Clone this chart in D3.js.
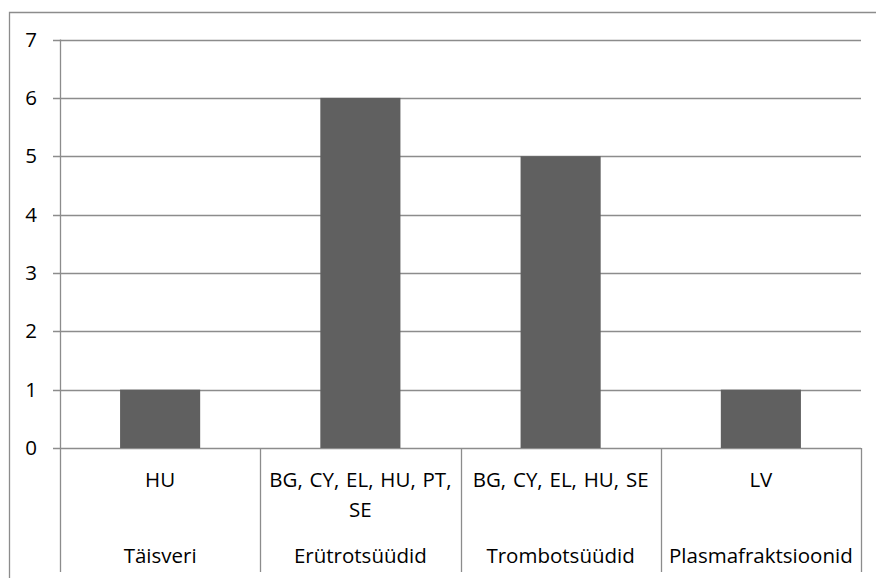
<!DOCTYPE html>
<html>
<head>
<meta charset="utf-8">
<script src="https://cdn.jsdelivr.net/npm/d3@7/dist/d3.min.js"></script>
<style>
  html, body { margin: 0; padding: 0; background: #fff; }
  svg { display: block; }
  text { font-family: "Open Sans", Lato, sans-serif; fill: #000; }
</style>
</head>
<body>
<svg id="chart" width="876" height="578"></svg>
<script>
// Blood component groups, the countries listed under each, and the count per group
const groups = ["Täisveri", "Erütrotsüüdid", "Trombotsüüdid", "Plasmafraktsioonid"];
const countryLabels = [["HU"], ["BG, CY, EL, HU, PT,", "SE"], ["BG, CY, EL, HU, SE"], ["LV"]];
const counts = [1, 6, 5, 1];
const yTicks = [0, 1, 2, 3, 4, 5, 6, 7];

const svg = d3.select("#chart");
const W = 876, H = 578;
const plotLeft = 60, plotRight = 861, plotTop = 39.5, plotBottom = 448;
const axisColor = "#8c8c8c";
const fontSize = 20.5;

// chart frame (clipped by the page on the right and bottom)
svg.append("path")
  .attr("d", `M9.5,${H} V12.5 H${W}`)
  .attr("fill", "none")
  .attr("stroke", axisColor)
  .attr("stroke-width", 1.3);

const y = d3.scaleLinear().domain([0, 7]).range([plotBottom, plotTop]);
const x = d3.scaleBand().domain(groups).range([plotLeft, plotRight]).paddingInner(0.6).paddingOuter(0.3);
const cell = d3.scaleBand().domain(groups).range([plotLeft, plotRight]).padding(0);

// horizontal gridlines with small ticks to the left of the axis
svg.append("g").selectAll("line").data(yTicks).join("line")
  .attr("x1", plotLeft - 7).attr("x2", plotRight)
  .attr("y1", d => Math.round(y(d)) + 0.5).attr("y2", d => Math.round(y(d)) + 0.5)
  .attr("stroke", axisColor).attr("stroke-width", 1.3);

// y tick labels
svg.append("g").selectAll("text").data(yTicks).join("text")
  .attr("x", 37).attr("y", d => y(d))
  .attr("dy", "0.35em")
  .attr("text-anchor", "end")
  .attr("font-size", fontSize)
  .text(d => d);

// bars
svg.append("g").selectAll("rect").data(counts).join("rect")
  .attr("x", (d, i) => x(groups[i]))
  .attr("width", x.bandwidth())
  .attr("y", d => y(d))
  .attr("height", d => y(0) - y(d))
  .attr("fill", "#606060");

// vertical axis and category separators running down through the label area
const seps = groups.map(g => cell(g)).concat([plotRight]);
svg.append("g").selectAll("line").data(seps).join("line")
  .attr("x1", d => Math.round(d) + 0.5).attr("x2", d => Math.round(d) + 0.5)
  .attr("y1", (d, i) => i === 0 ? plotTop : plotBottom)
  .attr("y2", 572)
  .attr("stroke", axisColor).attr("stroke-width", 1.3);

// country labels (first level)
const lbl = svg.append("g");
groups.forEach((g, i) => {
  const cx = cell(g) + cell.bandwidth() / 2;
  countryLabels[i].forEach((line, j) => {
    lbl.append("text")
      .attr("x", cx).attr("y", 480 + j * 30)
      .attr("dy", "0.35em")
      .attr("text-anchor", "middle")
      .attr("font-size", fontSize)
      .attr("word-spacing", 1.5)
      .text(line);
  });
  // group labels (second level)
  lbl.append("text")
    .attr("x", cx).attr("y", 556)
    .attr("dy", "0.35em")
    .attr("text-anchor", "middle")
    .attr("font-size", fontSize)
    .text(g);
});
</script>
</body>
</html>
